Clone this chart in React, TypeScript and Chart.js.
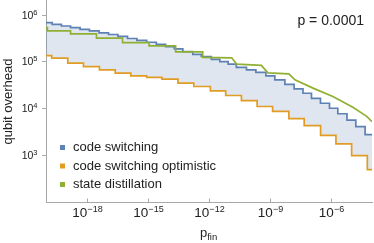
import React, { useEffect, useRef } from "react";
import { Chart, registerables } from "chart.js";

Chart.register(...registerables);

// ---------- data ----------
const seriesLabels = ["code switching", "code switching optimistic", "state distillation"];
const seriesColors = ["#5e81b5", "#e19c24", "#8fb032"];
const fillColor = "rgba(94,129,181,0.2)";

// code switching (stepped, value holds from x[i] to x[i+1])
const switchingX = [
  1e-20, 2.0e-20, 5.7e-20, 1.6e-19, 4.7e-19, 1.35e-18, 4.0e-18, 1.17e-17, 3.4e-17, 1.0e-16,
  2.9e-16, 8.7e-16, 2.6e-15, 7.4e-15, 2.0e-14, 5.2e-14, 1.6e-13, 4.2e-13, 1.3e-12, 3.4e-12,
  8.7e-12, 2.2e-11, 6.9e-11, 2.0e-10, 6.2e-10, 1.7e-9, 5.3e-9, 1.5e-8, 4.1e-8, 1.07e-7,
  2.96e-7, 8.2e-7, 2.1e-6, 5.9e-6, 1.6e-5, 4.6e-5, 1e-4,
];
const switchingY = [
  670000, 618000, 569000, 524000, 484000, 446000, 404000, 375000, 340000, 308000,
  280000, 256000, 232000, 207000, 185000, 162000, 141000, 127000, 110000, 99100,
  87100, 74500, 65900, 58300, 49100, 40400, 32400, 26000, 20900, 16300,
  12800, 10000, 7640, 5560, 4040, 2730, 2730,
];

// code switching optimistic (stepped)
const optimisticX = [
  1e-20, 1.9e-20, 1.17e-19, 6.9e-19, 4.2e-18, 2.5e-17, 1.45e-16, 8.7e-16, 4.9e-15, 3.0e-14,
  1.8e-13, 1.17e-12, 6.6e-12, 3.9e-11, 2.3e-10, 1.32e-9, 8.3e-9, 4.7e-8, 3.0e-7, 1.7e-6,
  1.0e-5, 5.9e-5, 1e-4,
];
const optimisticY = [
  133000, 117000, 91600, 77400, 65900, 56100, 49100, 45700, 41800, 34400,
  29100, 23600, 18700, 14500, 10900, 8550, 5980, 4250, 2640, 1730,
  975, 491, 491,
];

// state distillation (corner points of the line)
const distillationX = [
  1e-20, 1.17e-20, 1.17e-20, 1.6e-19, 1.6e-19, 3.0e-18, 3.0e-18, 5.7e-17, 5.7e-17, 1.15e-15,
  1.15e-15, 2.3e-14, 2.3e-14, 4.9e-13, 4.9e-13, 1.3e-11, 2.3e-11, 3.7e-10, 7.8e-10, 8.3e-9,
  1.65e-8, 1.27e-7, 1.2e-6, 1.15e-5, 5.5e-5, 1e-4,
];
const distillationY = [
  524000, 524000, 446000, 446000, 385000, 385000, 312000, 312000, 251000, 251000,
  214000, 214000, 159000, 159000, 122000, 119000, 87100, 82200, 56900, 54200,
  40400, 26900, 17800, 10500, 6700, 5160,
];

const xTickExponents = [-18, -15, -12, -9, -6];
const yTickExponents = [3, 4, 5, 6];
const annotationText = "p = 0.0001";
const xTitleMain = "p";
const xTitleSub = "fin";
const yTitle = "qubit overhead";

// ---------- styling ----------
const FONT = '"Liberation Sans", Arial, sans-serif';
const AXIS = "#a8a8a8";
const TEXT = "#222222";

const pts = (xs: number[], ys: number[]) => xs.map((x, i) => ({ x, y: ys[i] }));
const expText = (e: number) => (e < 0 ? "\u2212" + Math.abs(e) : String(e));

const overlay = {
  id: "overlay",
  afterDraw(chart: any) {
    const ctx: CanvasRenderingContext2D = chart.ctx;
    const xs = chart.scales.x;
    const ys = chart.scales.y;
    const area = chart.chartArea;
    ctx.save();
    ctx.strokeStyle = AXIS;
    ctx.lineWidth = 1;
    ctx.fillStyle = TEXT;
    ctx.textAlign = "left";
    ctx.textBaseline = "alphabetic";

    // y ticks + labels
    for (const e of yTickExponents) {
      const y = Math.round(ys.getPixelForValue(Math.pow(10, e))) + 0.5;
      ctx.beginPath();
      ctx.moveTo(area.left - 4, y);
      ctx.lineTo(area.left, y);
      ctx.stroke();
      const ex = expText(e);
      ctx.font = `7.5px ${FONT}`;
      const ew = ctx.measureText(ex).width;
      ctx.font = `10.5px ${FONT}`;
      const bw = ctx.measureText("10").width;
      const right = 37.5;
      ctx.fillText("10", right - ew - bw, y + 3.8);
      ctx.font = `7.5px ${FONT}`;
      ctx.fillText(ex, right - ew, y - 0.5);
    }

    // x ticks + labels
    for (const e of xTickExponents) {
      const x = Math.round(xs.getPixelForValue(Math.pow(10, e))) + 0.5;
      ctx.beginPath();
      ctx.moveTo(x, area.bottom);
      ctx.lineTo(x, area.bottom - 3.5);
      ctx.stroke();
      const ex = expText(e);
      ctx.font = `9px ${FONT}`;
      const ew = ctx.measureText(ex).width;
      ctx.font = `13.5px ${FONT}`;
      const bw = ctx.measureText("10").width;
      const start = x - (bw + ew) / 2;
      ctx.fillText("10", start, area.bottom + 15);
      ctx.font = `9px ${FONT}`;
      ctx.fillText(ex, start + bw, area.bottom + 9.5);
    }

    // legend
    const rows = [147.5, 166, 184.5];
    ctx.textBaseline = "middle";
    ctx.font = `13px ${FONT}`;
    seriesLabels.forEach((lab, i) => {
      ctx.fillStyle = seriesColors[i];
      ctx.fillRect(60, rows[i] - 2.5, 5, 5);
      ctx.fillStyle = TEXT;
      ctx.fillText(lab, 73, rows[i]);
    });

    // annotation
    ctx.textBaseline = "alphabetic";
    ctx.textAlign = "right";
    ctx.font = `14px ${FONT}`;
    ctx.fillText(annotationText, 364, 24.5);

    // x title
    ctx.textAlign = "left";
    ctx.font = `13px ${FONT}`;
    const pw = ctx.measureText(xTitleMain).width;
    ctx.fillText(xTitleMain, 200, 236.5);
    ctx.font = `9.5px ${FONT}`;
    ctx.fillText(xTitleSub, 200 + pw, 239.5);

    // y title
    ctx.save();
    ctx.translate(12, 101.5);
    ctx.rotate(-Math.PI / 2);
    ctx.textAlign = "center";
    ctx.font = `13px ${FONT}`;
    ctx.fillText(yTitle, 0, 0);
    ctx.restore();

    ctx.restore();
  },
};

export default function App() {
  const ref = useRef<HTMLCanvasElement>(null);
  useEffect(() => {
    const canvas = ref.current;
    if (!canvas) return;
    const chart = new Chart(canvas, {
      type: "line",
      data: {
        datasets: [
          {
            label: seriesLabels[0],
            data: pts(switchingX, switchingY),
            borderColor: seriesColors[0],
            borderWidth: 1.7,
            stepped: "before",
            pointRadius: 0,
            fill: false,
            order: 1,
          },
          {
            label: seriesLabels[1],
            data: pts(optimisticX, optimisticY),
            borderColor: seriesColors[1],
            backgroundColor: fillColor,
            borderWidth: 1.7,
            stepped: "before",
            pointRadius: 0,
            fill: { target: 0 },
            order: 2,
          },
          {
            label: seriesLabels[2],
            data: pts(distillationX, distillationY),
            borderColor: seriesColors[2],
            borderWidth: 1.7,
            pointRadius: 0,
            tension: 0,
            fill: false,
            order: 0,
          },
        ],
      },
      options: {
        animation: false,
        responsive: false,
        devicePixelRatio: 1,
        layout: { padding: { top: 0, right: 2, bottom: 0, left: 0 } },
        plugins: { legend: { display: false }, tooltip: { enabled: false } },
        scales: {
          x: {
            type: "logarithmic",
            min: 1e-20,
            max: 1e-4,
            grid: { display: false },
            border: { display: true, color: AXIS, width: 1 },
            ticks: { display: false },
            afterBuildTicks: (s: any) => {
              s.ticks = xTickExponents.map((e) => ({ value: Math.pow(10, e) }));
            },
            afterFit: (s: any) => {
              s.height = 41;
            },
          },
          y: {
            type: "logarithmic",
            min: 100,
            max: 2.04e6,
            grid: { display: false },
            border: { display: true, color: AXIS, width: 1 },
            ticks: { display: false },
            afterBuildTicks: (s: any) => {
              s.ticks = yTickExponents.map((e) => ({ value: Math.pow(10, e) }));
            },
            afterFit: (s: any) => {
              s.width = 46;
            },
          },
        },
      } as any,
      plugins: [overlay],
    });
    return () => chart.destroy();
  }, []);
  return (
    <div style={{ position: "fixed", left: 0, top: 0, width: 374, height: 243, background: "#fff" }}>
      <canvas ref={ref} width={374} height={243} style={{ display: "block", width: 374, height: 243 }} />
    </div>
  );
}
